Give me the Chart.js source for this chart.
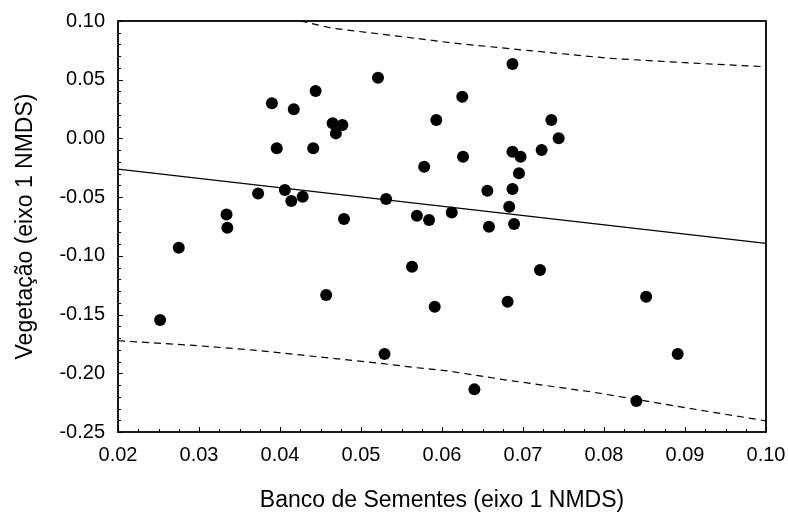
<!DOCTYPE html>
<html><head><meta charset="utf-8">
<script src="https://cdn.jsdelivr.net/npm/chart.js@4/dist/chart.umd.min.js"></script>
<style>html,body{margin:0;padding:0;background:#fff}#wrap{width:788px;height:512px}</style>
</head><body><div id="wrap"><canvas id="c" width="788" height="512"></canvas></div>
<script>
const xTitle = 'Banco de Sementes (eixo 1 NMDS)';
const yTitle = 'Vegetação (eixo 1 NMDS)';
const xTickValues = [0.02, 0.03, 0.04, 0.05, 0.06, 0.07, 0.08, 0.09, 0.10];
const yTickValues = [0.10, 0.05, 0.00, -0.05, -0.10, -0.15, -0.20, -0.25];

const seedBank = [0.0252,0.0275,0.0334,0.0335,0.0373,0.0390,0.0396,0.0406,0.0414,0.0417,0.0428,0.0441,0.0444,0.0457,0.0465,0.0469,0.0477,0.0479,0.0521,0.0529,0.0531,0.0563,0.0569,0.0578,0.0584,0.0591,0.0593,0.0612,0.0625,0.0626,0.0640,0.0656,0.0658,0.0681,0.0683,0.0687,0.0687,0.0687,0.0689,0.0695,0.0697,0.0721,0.0723,0.0735,0.0744,0.0840,0.0852,0.0891];
const vegetation = [-0.1547,-0.0930,-0.0647,-0.0760,-0.0468,0.0299,-0.0084,-0.0440,-0.0533,0.0248,-0.0496,-0.0084,0.0404,-0.1334,0.0129,0.0043,0.0114,-0.0687,0.0517,-0.1836,-0.0516,-0.1093,-0.0658,-0.0241,-0.0695,-0.1434,0.0157,-0.0630,0.0355,-0.0156,-0.2137,-0.0445,-0.0752,-0.1391,-0.0582,0.0634,-0.0113,-0.0431,-0.0729,-0.0297,-0.0156,-0.1121,-0.0099,0.0157,0.0001,-0.2237,-0.1348,-0.1836];

const fitX = [0.02, 0.10];
const fitY = [-0.0261, -0.0894];
const upperX = [0.0425, 0.0465, 0.0585, 0.0610, 0.0709, 0.0807, 0.0900, 0.1000];
const upperY = [0.1000, 0.0938, 0.0838, 0.0815, 0.0747, 0.0682, 0.0645, 0.0610];
const lowerX = [0.0200, 0.0289, 0.0367, 0.0437, 0.0519, 0.0569, 0.0606, 0.0680, 0.0783, 0.0931, 0.1000];
const lowerY = [-0.1723, -0.1760, -0.1802, -0.1853, -0.1911, -0.1953, -0.1979, -0.2058, -0.2157, -0.2328, -0.2405];

const pts = (xs, ys) => xs.map((x, i) => ({x: x, y: ys[i]}));

const frameAndTicks = {
  id: 'frameAndTicks',
  afterDatasetsDraw(chart) {
    const {ctx, chartArea: a, scales: {x, y}} = chart;
    ctx.save();
    ctx.strokeStyle = '#000';
    ctx.lineWidth = 1;
    ctx.beginPath();
    const xs = xTickValues;
    for (let i = 0; i < xs.length; i++) {
      const p = Math.round(x.getPixelForValue(xs[i])) + 0.5;
      ctx.moveTo(p, a.bottom); ctx.lineTo(p, a.bottom - 5);
      if (i < xs.length - 1) {
        const step = (xs[i + 1] - xs[i]) / 4;
        for (let k = 1; k < 4; k++) {
          const q = Math.round(x.getPixelForValue(xs[i] + k * step)) + 0.5;
          ctx.moveTo(q, a.bottom); ctx.lineTo(q, a.bottom - 3);
        }
      }
    }
    const ys = yTickValues;
    for (let i = 0; i < ys.length; i++) {
      const p = Math.round(y.getPixelForValue(ys[i])) + 0.5;
      ctx.moveTo(a.left, p); ctx.lineTo(a.left + 5, p);
      if (i < ys.length - 1) {
        const step = (ys[i + 1] - ys[i]) / 5;
        for (let k = 1; k < 5; k++) {
          const q = Math.round(y.getPixelForValue(ys[i] + k * step)) + 0.5;
          ctx.moveTo(a.left, q); ctx.lineTo(a.left + 3, q);
        }
      }
    }
    ctx.stroke();
    ctx.lineWidth = 1.8;
    ctx.strokeRect(a.left, a.top, a.right - a.left, a.bottom - a.top);
    ctx.restore();
  }
};

const fontFam = 'Arial, "Liberation Sans", sans-serif';

new Chart(document.getElementById('c'), {
  type: 'scatter',
  data: {
    datasets: [
      {data: pts(seedBank, vegetation), backgroundColor: '#000', borderColor: '#000', pointRadius: 6, pointHoverRadius: 6, borderWidth: 0, order: 0},
      {data: pts(fitX, fitY), showLine: true, borderColor: '#000', borderWidth: 1.2, pointRadius: 0, fill: false, order: 1},
      {data: pts(upperX, upperY), showLine: true, borderColor: '#000', borderWidth: 1.2, borderDash: [7, 5], pointRadius: 0, fill: false, order: 2},
      {data: pts(lowerX, lowerY), showLine: true, borderColor: '#000', borderWidth: 1.2, borderDash: [7, 5], pointRadius: 0, fill: false, order: 3}
    ]
  },
  options: {
    responsive: false,
    animation: false,
    devicePixelRatio: 1,
    layout: {padding: {left: 0, right: 22, top: 21, bottom: 0}},
    plugins: {legend: {display: false}, tooltip: {enabled: false}},
    scales: {
      x: {
        type: 'linear', min: 0.02, max: 0.10,
        afterFit(s) { s.height = 80; s.paddingLeft = 0; s.paddingRight = 0; },
        afterBuildTicks(s) { s.ticks = xTickValues.map(v => ({value: v})); },
        grid: {display: false, drawTicks: false},
        border: {display: false},
        ticks: {padding: 11, color: '#000', font: {family: fontFam, size: 20}, callback: v => v.toFixed(2), maxRotation: 0, autoSkip: false},
        title: {display: true, text: xTitle, color: '#000', font: {family: fontFam, size: 23, lineHeight: 1}, padding: {top: 0, bottom: 0}}
      },
      y: {
        type: 'linear', min: -0.25, max: 0.10,
        afterFit(s) { s.width = 118; s.paddingTop = 0; s.paddingBottom = 0; },
        afterBuildTicks(s) { s.ticks = yTickValues.map(v => ({value: v})); },
        grid: {display: false, drawTicks: false},
        border: {display: false},
        ticks: {padding: 13, color: '#000', font: {family: fontFam, size: 20}, callback: v => v.toFixed(2), autoSkip: false},
        title: {display: true, text: yTitle, color: '#000', font: {family: fontFam, size: 23, lineHeight: 1}, padding: {top: 14, bottom: 0}}
      }
    }
  },
  plugins: [frameAndTicks]
});
</script></body></html>
